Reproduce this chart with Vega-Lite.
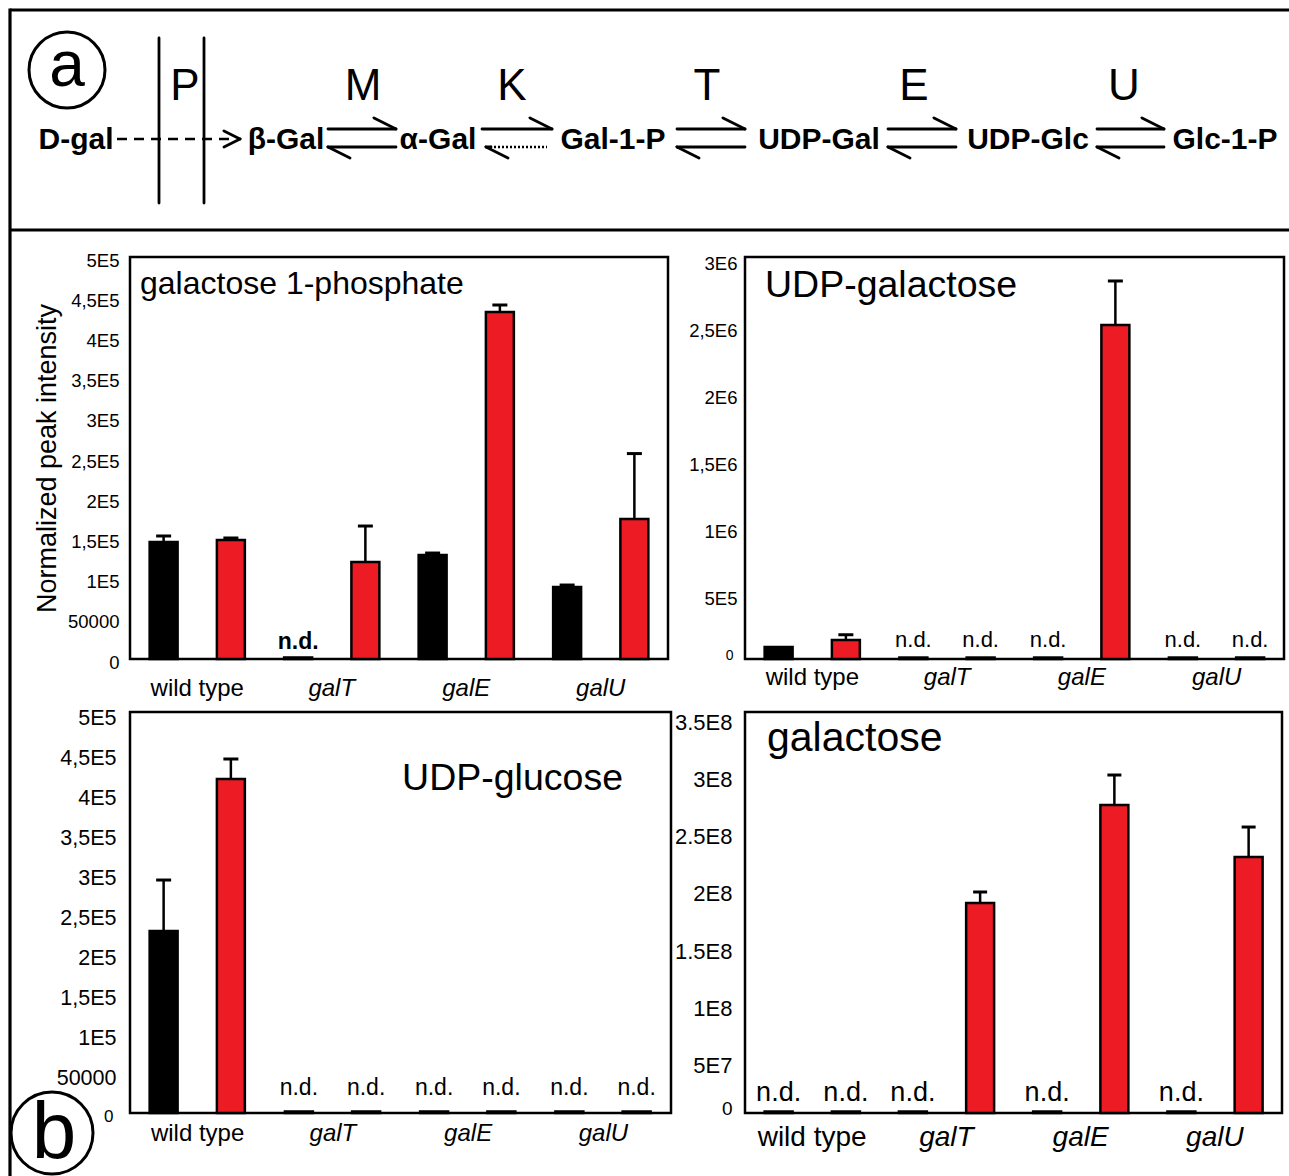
{
  "$schema": "https://vega.github.io/schema/vega-lite/v6.json",
  "padding": 0,
  "background": "white",
  "config": {
    "font": "Liberation Sans",
    "view": {"stroke": null},
    "axis": {"labelFont": "Liberation Sans", "titleFont": "Liberation Sans", "labelColor": "black", "titleColor": "black"},
    "text": {"font": "Liberation Sans", "color": "black"}
  },
  "datasets": {
    "bars": [
      {"panel": "gal1p", "strain": "wild type", "series": "control", "value": 145500, "hi": 153000, "nd": false},
      {"panel": "gal1p", "strain": "wild type", "series": "galactose", "value": 148000, "hi": 150500, "nd": false},
      {"panel": "gal1p", "strain": "galT", "series": "control", "value": 1900, "nd": true},
      {"panel": "gal1p", "strain": "galT", "series": "galactose", "value": 120600, "hi": 165400, "nd": false},
      {"panel": "gal1p", "strain": "galE", "series": "control", "value": 129400, "hi": 131800, "nd": false},
      {"panel": "gal1p", "strain": "galE", "series": "galactose", "value": 431600, "hi": 440300, "nd": false},
      {"panel": "gal1p", "strain": "galU", "series": "control", "value": 89600, "hi": 92000, "nd": false},
      {"panel": "gal1p", "strain": "galU", "series": "galactose", "value": 174100, "hi": 255500, "nd": false},

      {"panel": "udpgal", "strain": "wild type", "series": "control", "value": 90000, "nd": false},
      {"panel": "udpgal", "strain": "wild type", "series": "galactose", "value": 142000, "hi": 181000, "nd": false},
      {"panel": "udpgal", "strain": "galT", "series": "control", "value": 11000, "nd": true},
      {"panel": "udpgal", "strain": "galT", "series": "galactose", "value": 11000, "nd": true},
      {"panel": "udpgal", "strain": "galE", "series": "control", "value": 11000, "nd": true},
      {"panel": "udpgal", "strain": "galE", "series": "galactose", "value": 2493000, "hi": 2821000, "nd": false},
      {"panel": "udpgal", "strain": "galU", "series": "control", "value": 11000, "nd": true},
      {"panel": "udpgal", "strain": "galU", "series": "galactose", "value": 11000, "nd": true},

      {"panel": "udpglc", "strain": "wild type", "series": "control", "value": 227000, "hi": 290500, "nd": false},
      {"panel": "udpglc", "strain": "wild type", "series": "galactose", "value": 416500, "hi": 441400, "nd": false},
      {"panel": "udpglc", "strain": "galT", "series": "control", "value": 1900, "nd": true},
      {"panel": "udpglc", "strain": "galT", "series": "galactose", "value": 1900, "nd": true},
      {"panel": "udpglc", "strain": "galE", "series": "control", "value": 1900, "nd": true},
      {"panel": "udpglc", "strain": "galE", "series": "galactose", "value": 1900, "nd": true},
      {"panel": "udpglc", "strain": "galU", "series": "control", "value": 1900, "nd": true},
      {"panel": "udpglc", "strain": "galU", "series": "galactose", "value": 1900, "nd": true},

      {"panel": "gal", "strain": "wild type", "series": "control", "value": 1300000, "nd": true},
      {"panel": "gal", "strain": "wild type", "series": "galactose", "value": 1300000, "nd": true},
      {"panel": "gal", "strain": "galT", "series": "control", "value": 1300000, "nd": true},
      {"panel": "gal", "strain": "galT", "series": "galactose", "value": 183300000, "hi": 192900000, "nd": false},
      {"panel": "gal", "strain": "galE", "series": "control", "value": 1300000, "nd": true},
      {"panel": "gal", "strain": "galE", "series": "galactose", "value": 268800000, "hi": 295000000, "nd": false},
      {"panel": "gal", "strain": "galU", "series": "control", "value": 1300000, "nd": true},
      {"panel": "gal", "strain": "galU", "series": "galactose", "value": 223400000, "hi": 249600000, "nd": false}
    ],
    "lines": [
      {"kind": "frame", "x": 10, "y": 10, "x2": 1289, "y2": 10},
      {"kind": "frame", "x": 10, "y": 230, "x2": 1289, "y2": 230},
      {"kind": "frame", "x": 10, "y": 8.5, "x2": 10, "y2": 1176},
      {"kind": "membrane", "x": 159, "y": 38, "x2": 159, "y2": 203},
      {"kind": "membrane", "x": 204, "y": 38, "x2": 204, "y2": 203},
      {"kind": "dashed", "x": 117, "y": 139, "x2": 230, "y2": 139},
      {"kind": "solid", "x": 224, "y": 131, "x2": 240, "y2": 139},
      {"kind": "solid", "x": 240, "y": 139, "x2": 224, "y2": 147},

      {"kind": "solid", "x": 328, "y": 129, "x2": 396, "y2": 129},
      {"kind": "solid", "x": 396, "y": 129, "x2": 374, "y2": 118},
      {"kind": "solid", "x": 328, "y": 147, "x2": 396, "y2": 147},
      {"kind": "solid", "x": 328, "y": 147, "x2": 350, "y2": 158},

      {"kind": "solid", "x": 482, "y": 129, "x2": 552, "y2": 129},
      {"kind": "solid", "x": 552, "y": 129, "x2": 530, "y2": 118},
      {"kind": "dotted", "x": 490, "y": 147, "x2": 547, "y2": 147},
      {"kind": "solid", "x": 486, "y": 147, "x2": 491, "y2": 147},
      {"kind": "solid", "x": 486, "y": 147, "x2": 508, "y2": 158},

      {"kind": "solid", "x": 677, "y": 129, "x2": 745, "y2": 129},
      {"kind": "solid", "x": 745, "y": 129, "x2": 723, "y2": 118},
      {"kind": "solid", "x": 677, "y": 147, "x2": 745, "y2": 147},
      {"kind": "solid", "x": 677, "y": 147, "x2": 699, "y2": 158},

      {"kind": "solid", "x": 888, "y": 129, "x2": 956, "y2": 129},
      {"kind": "solid", "x": 956, "y": 129, "x2": 934, "y2": 118},
      {"kind": "solid", "x": 888, "y": 147, "x2": 956, "y2": 147},
      {"kind": "solid", "x": 888, "y": 147, "x2": 910, "y2": 158},

      {"kind": "solid", "x": 1097, "y": 129, "x2": 1164, "y2": 129},
      {"kind": "solid", "x": 1164, "y": 129, "x2": 1142, "y2": 118},
      {"kind": "solid", "x": 1097, "y": 147, "x2": 1164, "y2": 147},
      {"kind": "solid", "x": 1097, "y": 147, "x2": 1119, "y2": 158}
    ],
    "labels": [
      {"role": "enzyme", "label": "P", "x": 185, "y": 100},
      {"role": "enzyme", "label": "M", "x": 363, "y": 100},
      {"role": "enzyme", "label": "K", "x": 512, "y": 100},
      {"role": "enzyme", "label": "T", "x": 707, "y": 100},
      {"role": "enzyme", "label": "E", "x": 914, "y": 100},
      {"role": "enzyme", "label": "U", "x": 1124, "y": 100},
      {"role": "metabolite", "label": "D-gal", "x": 76, "y": 149},
      {"role": "metabolite", "label": "β-Gal", "x": 286, "y": 149},
      {"role": "metabolite", "label": "α-Gal", "x": 438, "y": 149},
      {"role": "metabolite", "label": "Gal-1-P", "x": 613, "y": 149},
      {"role": "metabolite", "label": "UDP-Gal", "x": 819, "y": 149},
      {"role": "metabolite", "label": "UDP-Glc", "x": 1028, "y": 149},
      {"role": "metabolite", "label": "Glc-1-P", "x": 1225, "y": 149},
      {"role": "panelA", "label": "a", "x": 67, "y": 86},
      {"role": "panelB", "label": "b", "x": 54, "y": 1158}
    ],
    "circles": [
      {"which": "a", "x": 67, "y": 70},
      {"which": "b", "x": 52, "y": 1133}
    ]
  },
  "spacing": 0,
  "bounds": "flush",
  "vconcat": [
    {
      "width": 1289,
      "height": 257,
      "view": {"stroke": null},
      "layer": [
        {
          "data": {"name": "lines"},
          "transform": [{"filter": "datum.kind == 'frame'"}],
          "mark": {"type": "rule", "color": "black", "strokeWidth": 3.2},
          "encoding": {
            "x": {"field": "x", "type": "quantitative", "scale": {"domain": [0, 1289], "nice": false, "zero": false}, "axis": null},
            "y": {"field": "y", "type": "quantitative", "scale": {"domain": [0, 257], "nice": false, "zero": false, "reverse": true}, "axis": null},
            "x2": {"field": "x2"},
            "y2": {"field": "y2"}
          }
        },
        {
          "data": {"name": "lines"},
          "transform": [{"filter": "datum.kind == 'membrane' || datum.kind == 'solid'"}],
          "mark": {"type": "rule", "color": "black", "strokeWidth": 2.8, "strokeCap": "round"},
          "encoding": {
            "x": {"field": "x", "type": "quantitative", "scale": {"domain": [0, 1289], "nice": false, "zero": false}, "axis": null},
            "y": {"field": "y", "type": "quantitative", "scale": {"domain": [0, 257], "nice": false, "zero": false, "reverse": true}, "axis": null},
            "x2": {"field": "x2"},
            "y2": {"field": "y2"}
          }
        },
        {
          "data": {"name": "lines"},
          "transform": [{"filter": "datum.kind == 'dashed' || datum.kind == 'dotted'"}],
          "mark": {"type": "rule", "color": "black", "strokeWidth": 2.5},
          "encoding": {
            "x": {"field": "x", "type": "quantitative", "scale": {"domain": [0, 1289], "nice": false, "zero": false}, "axis": null},
            "y": {"field": "y", "type": "quantitative", "scale": {"domain": [0, 257], "nice": false, "zero": false, "reverse": true}, "axis": null},
            "x2": {"field": "x2"},
            "y2": {"field": "y2"},
            "strokeDash": {"field": "kind", "type": "nominal", "scale": {"domain": ["dashed", "dotted"], "range": [[10, 7], [2, 2]]}, "legend": null}
          }
        },
        {
          "data": {"name": "labels"},
          "transform": [{"filter": "datum.role == 'enzyme'"}],
          "mark": {"type": "text", "align": "center", "baseline": "alphabetic", "fontSize": 44},
          "encoding": {
            "x": {"field": "x", "type": "quantitative", "scale": {"domain": [0, 1289], "nice": false, "zero": false}, "axis": null},
            "y": {"field": "y", "type": "quantitative", "scale": {"domain": [0, 257], "nice": false, "zero": false, "reverse": true}, "axis": null},
            "text": {"field": "label"}
          }
        },
        {
          "data": {"name": "labels"},
          "transform": [{"filter": "datum.role == 'metabolite'"}],
          "mark": {"type": "text", "align": "center", "baseline": "alphabetic", "fontSize": 30, "fontWeight": "bold"},
          "encoding": {
            "x": {"field": "x", "type": "quantitative", "scale": {"domain": [0, 1289], "nice": false, "zero": false}, "axis": null},
            "y": {"field": "y", "type": "quantitative", "scale": {"domain": [0, 257], "nice": false, "zero": false, "reverse": true}, "axis": null},
            "text": {"field": "label"}
          }
        },
        {
          "data": {"name": "labels"},
          "transform": [{"filter": "datum.role == 'panelA'"}],
          "mark": {"type": "text", "align": "center", "baseline": "alphabetic", "fontSize": 64},
          "encoding": {
            "x": {"field": "x", "type": "quantitative", "scale": {"domain": [0, 1289], "nice": false, "zero": false}, "axis": null},
            "y": {"field": "y", "type": "quantitative", "scale": {"domain": [0, 257], "nice": false, "zero": false, "reverse": true}, "axis": null},
            "text": {"field": "label"}
          }
        },
        {
          "data": {"name": "labels"},
          "transform": [{"filter": "datum.role == 'panelB'"}],
          "mark": {"type": "text", "align": "center", "baseline": "alphabetic", "fontSize": 80},
          "encoding": {
            "x": {"field": "x", "type": "quantitative", "scale": {"domain": [0, 1289], "nice": false, "zero": false}, "axis": null},
            "y": {"field": "y", "type": "quantitative", "scale": {"domain": [0, 257], "nice": false, "zero": false, "reverse": true}, "axis": null},
            "text": {"field": "label"}
          }
        },
        {
          "data": {"name": "circles"},
          "transform": [{"filter": "datum.which == 'a'"}],
          "mark": {"type": "point", "shape": "circle", "filled": false, "stroke": "black", "strokeWidth": 3, "size": 5776, "opacity": 1},
          "encoding": {
            "x": {"field": "x", "type": "quantitative", "scale": {"domain": [0, 1289], "nice": false, "zero": false}, "axis": null},
            "y": {"field": "y", "type": "quantitative", "scale": {"domain": [0, 257], "nice": false, "zero": false, "reverse": true}, "axis": null}
          }
        },
        {
          "data": {"name": "circles"},
          "transform": [{"filter": "datum.which == 'b'"}],
          "mark": {"type": "point", "shape": "circle", "filled": false, "stroke": "black", "strokeWidth": 3, "size": 6724, "opacity": 1},
          "encoding": {
            "x": {"field": "x", "type": "quantitative", "scale": {"domain": [0, 1289], "nice": false, "zero": false}, "axis": null},
            "y": {"field": "y", "type": "quantitative", "scale": {"domain": [0, 257], "nice": false, "zero": false, "reverse": true}, "axis": null}
          }
        }
      ]
    },
    {
      "columns": 3,
      "spacing": {"row": 53, "column": 74},
      "bounds": "flush",
      "align": {"row": "all", "column": "none"},
      "concat": [
        {
          "width": 56, "height": 402,
          "view": {"stroke": null},
          "data": {"values": [{"k": 1}]},
          "mark": {"type": "point", "opacity": 0}
        },
        {
          "width": 538, "height": 402,
          "view": {"stroke": "black", "strokeWidth": 2.5},
          "encoding": {
            "x": {"field": "strain", "type": "nominal", "sort": ["wild type", "galT", "galE", "galU"], "scale": {"paddingInner": 0, "paddingOuter": 0},
              "axis": {"title": null, "domain": false, "ticks": false, "labelAngle": 0, "labelFontSize": 24, "labelPadding": 17,
                "labelFontStyle": {"condition": {"test": "datum.value != 'wild type'", "value": "italic"}, "value": "normal"}}},
            "y": {"field": "value", "type": "quantitative", "scale": {"domain": [0, 500000], "nice": false},
              "title": "Normalized peak intensity",
              "axis": {"domain": false, "ticks": false, "grid": false,
                "values": [0, 50000, 100000, 150000, 200000, 250000, 300000, 350000, 400000, 450000, 500000],
                "labelExpr": "datum.value == 0 ? '0' : datum.value == 50000 ? '50000' : replace(format(datum.value / 100000, '.1~f'), '.', ',') + 'E5'",
                "labelFontSize": 18.5, "labelPadding": 11, "labelOffset": 3,
                "titleFontSize": 27, "titleFontWeight": "normal", "titlePadding": 6}}
          },
          "layer": [
            {"data": {"name": "bars"}, "transform": [{"filter": "datum.panel == 'gal1p'"}],
              "mark": {"type": "bar", "stroke": "black", "strokeWidth": 2.5},
              "encoding": {
                "xOffset": {"field": "series", "type": "nominal", "scale": {"domain": ["control", "galactose"], "paddingInner": 0.584, "paddingOuter": 0.292}},
                "fill": {"condition": {"test": "datum.nd", "value": "black"}, "field": "series", "type": "nominal", "scale": {"domain": ["control", "galactose"], "range": ["black", "#ED1C24"]}, "legend": null}}},
            {"data": {"name": "bars"}, "transform": [{"filter": "datum.panel == 'gal1p' && isValid(datum.hi)"}],
              "mark": {"type": "rule", "strokeWidth": 2.5, "color": "black"},
              "encoding": {"xOffset": {"field": "series", "type": "nominal"}, "y2": {"field": "hi"}}},
            {"data": {"name": "bars"}, "transform": [{"filter": "datum.panel == 'gal1p' && isValid(datum.hi)"}],
              "mark": {"type": "tick", "thickness": 3, "size": 15, "color": "black", "opacity": 1},
              "encoding": {"xOffset": {"field": "series", "type": "nominal"},
                "y": {"field": "hi", "type": "quantitative", "scale": {"domain": [0, 500000], "nice": false}, "title": "Normalized peak intensity"}}},
            {"data": {"name": "bars"}, "transform": [{"filter": "datum.panel == 'gal1p' && datum.nd"}],
              "mark": {"type": "text", "baseline": "alphabetic", "dy": -8, "fontSize": 23, "fontWeight": "bold"},
              "encoding": {"xOffset": {"field": "series", "type": "nominal"}, "text": {"value": "n.d."}}},
            {"data": {"name": "bars"}, "transform": [{"filter": "datum.panel == 'gal1p' && datum.strain == 'wild type' && datum.series == 'control'"}],
              "mark": {"type": "text", "align": "left", "baseline": "alphabetic", "fontSize": 32, "dx": 10, "dy": 37, "text": "galactose 1-phosphate"},
              "encoding": {"x": {"field": "strain", "type": "nominal", "bandPosition": 0}, "y": {"datum": 500000, "type": "quantitative"}}}
          ]
        },
        {
          "width": 539, "height": 402,
          "view": {"stroke": "black", "strokeWidth": 2.5},
          "encoding": {
            "x": {"field": "strain", "type": "nominal", "sort": ["wild type", "galT", "galE", "galU"], "scale": {"paddingInner": 0, "paddingOuter": 0},
              "axis": {"title": null, "domain": false, "ticks": false, "labelAngle": 0, "labelFontSize": 24, "labelPadding": 6,
                "labelFontStyle": {"condition": {"test": "datum.value != 'wild type'", "value": "italic"}, "value": "normal"}}},
            "y": {"field": "value", "type": "quantitative", "scale": {"domain": [0, 3000000], "nice": false},
              "title": null,
              "axis": {"domain": false, "ticks": false, "grid": false,
                "values": [0, 500000, 1000000, 1500000, 2000000, 2500000, 3000000],
                "labelExpr": "datum.value == 0 ? '0' : datum.value == 500000 ? '5E5' : replace(format(datum.value / 1000000, '.1~f'), '.', ',') + 'E6'",
                "labelFontSize": {"condition": {"test": "datum.value == 0", "value": 14}, "value": 18.5},
                "labelPadding": {"condition": {"test": "datum.value == 0", "value": 12}, "value": 8},
                "labelOffset": {"condition": {"test": "datum.value == 0", "value": -4}, "value": 6}}}
          },
          "layer": [
            {"data": {"name": "bars"}, "transform": [{"filter": "datum.panel == 'udpgal'"}],
              "mark": {"type": "bar", "stroke": "black", "strokeWidth": 2.5},
              "encoding": {
                "xOffset": {"field": "series", "type": "nominal", "scale": {"domain": ["control", "galactose"], "paddingInner": 0.584, "paddingOuter": 0.292}},
                "fill": {"condition": {"test": "datum.nd", "value": "black"}, "field": "series", "type": "nominal", "scale": {"domain": ["control", "galactose"], "range": ["black", "#ED1C24"]}, "legend": null}}},
            {"data": {"name": "bars"}, "transform": [{"filter": "datum.panel == 'udpgal' && isValid(datum.hi)"}],
              "mark": {"type": "rule", "strokeWidth": 2.5, "color": "black"},
              "encoding": {"xOffset": {"field": "series", "type": "nominal"}, "y2": {"field": "hi"}}},
            {"data": {"name": "bars"}, "transform": [{"filter": "datum.panel == 'udpgal' && isValid(datum.hi)"}],
              "mark": {"type": "tick", "thickness": 3, "size": 15, "color": "black", "opacity": 1},
              "encoding": {"xOffset": {"field": "series", "type": "nominal"},
                "y": {"field": "hi", "type": "quantitative", "scale": {"domain": [0, 3000000], "nice": false}, "title": null}}},
            {"data": {"name": "bars"}, "transform": [{"filter": "datum.panel == 'udpgal' && datum.nd"}],
              "mark": {"type": "text", "baseline": "alphabetic", "dy": -11, "fontSize": 22},
              "encoding": {"xOffset": {"field": "series", "type": "nominal"}, "text": {"value": "n.d."}}},
            {"data": {"name": "bars"}, "transform": [{"filter": "datum.panel == 'udpgal' && datum.strain == 'wild type' && datum.series == 'control'"}],
              "mark": {"type": "text", "align": "left", "baseline": "alphabetic", "fontSize": 37.5, "dx": 20, "dy": 40, "text": "UDP-galactose"},
              "encoding": {"x": {"field": "strain", "type": "nominal", "bandPosition": 0}, "y": {"datum": 3000000, "type": "quantitative"}}}
          ]
        },
        {
          "width": 55, "height": 401,
          "view": {"stroke": null},
          "data": {"values": [{"k": 1}]},
          "mark": {"type": "point", "opacity": 0}
        },
        {
          "width": 541, "height": 401,
          "view": {"stroke": "black", "strokeWidth": 2.5},
          "encoding": {
            "x": {"field": "strain", "type": "nominal", "sort": ["wild type", "galT", "galE", "galU"], "scale": {"paddingInner": 0, "paddingOuter": 0},
              "axis": {"title": null, "domain": false, "ticks": false, "labelAngle": 0, "labelFontSize": 24, "labelPadding": 8,
                "labelFontStyle": {"condition": {"test": "datum.value != 'wild type'", "value": "italic"}, "value": "normal"}}},
            "y": {"field": "value", "type": "quantitative", "scale": {"domain": [0, 500000], "nice": false},
              "title": null,
              "axis": {"domain": false, "ticks": false, "grid": false,
                "values": [0, 50000, 100000, 150000, 200000, 250000, 300000, 350000, 400000, 450000, 500000],
                "labelExpr": "datum.value == 0 ? '0' : datum.value == 50000 ? '50000' : replace(format(datum.value / 100000, '.1~f'), '.', ',') + 'E5'",
                "labelFontSize": {"condition": {"test": "datum.value == 0", "value": 17}, "value": 21.5},
                "labelPadding": {"condition": {"test": "datum.value == 0", "value": 17}, "value": 14},
                "labelOffset": {"condition": {"test": "datum.value == 0", "value": 3}, "value": 6}}}
          },
          "layer": [
            {"data": {"name": "bars"}, "transform": [{"filter": "datum.panel == 'udpglc'"}],
              "mark": {"type": "bar", "stroke": "black", "strokeWidth": 2.5},
              "encoding": {
                "xOffset": {"field": "series", "type": "nominal", "scale": {"domain": ["control", "galactose"], "paddingInner": 0.584, "paddingOuter": 0.292}},
                "fill": {"condition": {"test": "datum.nd", "value": "black"}, "field": "series", "type": "nominal", "scale": {"domain": ["control", "galactose"], "range": ["black", "#ED1C24"]}, "legend": null}}},
            {"data": {"name": "bars"}, "transform": [{"filter": "datum.panel == 'udpglc' && isValid(datum.hi)"}],
              "mark": {"type": "rule", "strokeWidth": 2.5, "color": "black"},
              "encoding": {"xOffset": {"field": "series", "type": "nominal"}, "y2": {"field": "hi"}}},
            {"data": {"name": "bars"}, "transform": [{"filter": "datum.panel == 'udpglc' && isValid(datum.hi)"}],
              "mark": {"type": "tick", "thickness": 3, "size": 15, "color": "black", "opacity": 1},
              "encoding": {"xOffset": {"field": "series", "type": "nominal"},
                "y": {"field": "hi", "type": "quantitative", "scale": {"domain": [0, 500000], "nice": false}, "title": null}}},
            {"data": {"name": "bars"}, "transform": [{"filter": "datum.panel == 'udpglc' && datum.nd"}],
              "mark": {"type": "text", "baseline": "alphabetic", "dy": -16, "fontSize": 23},
              "encoding": {"xOffset": {"field": "series", "type": "nominal"}, "text": {"value": "n.d."}}},
            {"data": {"name": "bars"}, "transform": [{"filter": "datum.panel == 'udpglc' && datum.strain == 'galU' && datum.series == 'galactose'"}],
              "mark": {"type": "text", "align": "right", "baseline": "alphabetic", "fontSize": 37.5, "dx": -48, "dy": 78, "text": "UDP-glucose"},
              "encoding": {"x": {"field": "strain", "type": "nominal", "bandPosition": 1}, "y": {"datum": 500000, "type": "quantitative"}}}
          ]
        },
        {
          "width": 537, "height": 401,
          "view": {"stroke": "black", "strokeWidth": 2.5},
          "encoding": {
            "x": {"field": "strain", "type": "nominal", "sort": ["wild type", "galT", "galE", "galU"], "scale": {"paddingInner": 0, "paddingOuter": 0},
              "axis": {"title": null, "domain": false, "ticks": false, "labelAngle": 0, "labelFontSize": 28, "labelPadding": 10,
                "labelFontStyle": {"condition": {"test": "datum.value != 'wild type'", "value": "italic"}, "value": "normal"}}},
            "y": {"field": "value", "type": "quantitative", "scale": {"domain": [0, 350000000], "nice": false},
              "title": null,
              "axis": {"domain": false, "ticks": false, "grid": false,
                "values": [0, 50000000, 100000000, 150000000, 200000000, 250000000, 300000000, 350000000],
                "labelExpr": "datum.value == 0 ? '0' : datum.value == 50000000 ? '5E7' : format(datum.value / 100000000, '.1~f') + 'E8'",
                "labelFontSize": {"condition": {"test": "datum.value == 0", "value": 19}, "value": 22},
                "labelPadding": 13,
                "labelOffset": {"condition": {"test": "datum.value == 0", "value": -5}, "value": 10}}}
          },
          "layer": [
            {"data": {"name": "bars"}, "transform": [{"filter": "datum.panel == 'gal'"}],
              "mark": {"type": "bar", "stroke": "black", "strokeWidth": 2.5},
              "encoding": {
                "xOffset": {"field": "series", "type": "nominal", "scale": {"domain": ["control", "galactose"], "paddingInner": 0.584, "paddingOuter": 0.292}},
                "fill": {"condition": {"test": "datum.nd", "value": "black"}, "field": "series", "type": "nominal", "scale": {"domain": ["control", "galactose"], "range": ["black", "#ED1C24"]}, "legend": null}}},
            {"data": {"name": "bars"}, "transform": [{"filter": "datum.panel == 'gal' && isValid(datum.hi)"}],
              "mark": {"type": "rule", "strokeWidth": 2.5, "color": "black"},
              "encoding": {"xOffset": {"field": "series", "type": "nominal"}, "y2": {"field": "hi"}}},
            {"data": {"name": "bars"}, "transform": [{"filter": "datum.panel == 'gal' && isValid(datum.hi)"}],
              "mark": {"type": "tick", "thickness": 3, "size": 14, "color": "black", "opacity": 1},
              "encoding": {"xOffset": {"field": "series", "type": "nominal"},
                "y": {"field": "hi", "type": "quantitative", "scale": {"domain": [0, 350000000], "nice": false}, "title": null}}},
            {"data": {"name": "bars"}, "transform": [{"filter": "datum.panel == 'gal' && datum.nd"}],
              "mark": {"type": "text", "baseline": "alphabetic", "dy": -11, "fontSize": 27},
              "encoding": {"xOffset": {"field": "series", "type": "nominal"}, "text": {"value": "n.d."}}},
            {"data": {"name": "bars"}, "transform": [{"filter": "datum.panel == 'gal' && datum.strain == 'wild type' && datum.series == 'control'"}],
              "mark": {"type": "text", "align": "left", "baseline": "alphabetic", "fontSize": 41, "dx": 22, "dy": 39, "text": "galactose"},
              "encoding": {"x": {"field": "strain", "type": "nominal", "bandPosition": 0}, "y": {"datum": 350000000, "type": "quantitative"}}}
          ]
        }
      ]
    }
  ]
}
